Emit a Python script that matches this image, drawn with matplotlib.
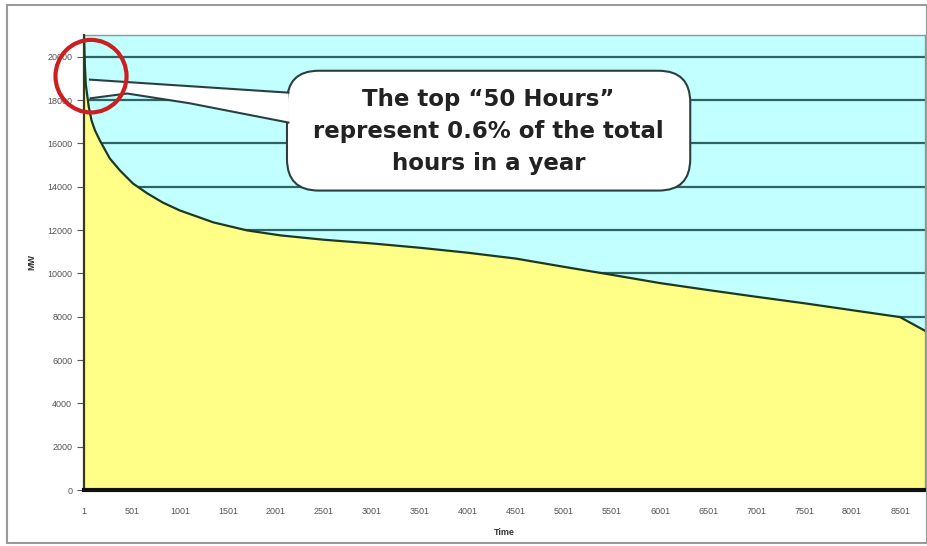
import matplotlib
matplotlib.use("Agg")
import matplotlib.pyplot as plt
from matplotlib.patches import FancyBboxPatch, Ellipse, Rectangle, Polygon

# load duration curve
hours = [1, 10, 20, 50, 80, 115, 170, 270, 375, 510, 660, 820, 1000, 1350,
         1700, 2050, 2500, 3000, 3500, 4000, 4500, 5000, 5500, 6000, 6500,
         7000, 7500, 8000, 8500, 8760]
mw = [21000, 19600, 18700, 17700, 17050, 16600, 16100, 15300, 14750, 14150,
      13690, 13270, 12900, 12350, 11980, 11750, 11550, 11380, 11180, 10950,
      10680, 10300, 9930, 9550, 9230, 8920, 8620, 8300, 7980, 7350]

y_ticks = list(range(0, 21000, 2000))
x_ticks = list(range(1, 8760, 500))
note = "The top \u201c50 Hours\u201d\nrepresent 0.6% of the total\nhours in a year"

plt.rcParams['font.family'] = ['Liberation Sans', 'DejaVu Sans']

fig = plt.figure(figsize=(9.28, 5.46), dpi=100)
fig.patches.append(Rectangle((7 / 928, 3 / 546), 920 / 928, 538 / 546,
                             transform=fig.transFigure, fill=False,
                             edgecolor='#9a9a9a', linewidth=1.5))
ax = fig.add_axes([84 / 928, 56 / 546, 841 / 928, 455 / 546])
ax.set_facecolor('#c2ffff')

ax.fill_between(hours, mw, 0, color='#ffff88', zorder=2, linewidth=0)
ax.plot(hours, mw, color='#1c3a22', linewidth=1.6, zorder=3)

ax.set_xlim(1, 8760)
ax.set_ylim(0, 21000)
ax.set_yticks(y_ticks)
ax.set_xticks(x_ticks)
ax.tick_params(axis='both', labelsize=6.5, labelcolor='#555555', color='#555555')
ax.tick_params(axis='y', length=5)
ax.tick_params(axis='x', length=0, pad=12)
ax.set_axisbelow(True)
ax.yaxis.grid(True, color='#2f6464', linewidth=1.6)

for side in ['top', 'right']:
    ax.spines[side].set_color('#8a9a9a')
    ax.spines[side].set_linewidth(1.0)
ax.spines['left'].set_color('#3a3a10')
ax.spines['left'].set_linewidth(1.6)
ax.spines['bottom'].set_color('#101010')
ax.spines['bottom'].set_linewidth(3.0)
ax.spines['bottom'].set_zorder(4)

ax.set_xlabel('Time', fontsize=6.5, color='#333333', fontweight='bold', labelpad=9)
ax.set_ylabel('MW', fontsize=6.5, color='#333333', fontweight='bold', labelpad=8)

# callout box (data coords, aspect fixed so corners stay round)
aspect = (2000 / 43.4) / (1 / 0.096)
box = FancyBboxPatch((2115, 13820), 4200, 5530,
                     boxstyle='round,pad=0,rounding_size=330',
                     mutation_aspect=aspect, facecolor='white',
                     edgecolor='#2a4040', linewidth=1.5, zorder=5)
ax.add_patch(box)
wedge = [(2130, 18340), (63, 18940), (70, 18080), (450, 18300),
         (1100, 17850), (2130, 16960)]
ax.add_patch(Polygon(wedge, closed=True, facecolor='white', edgecolor='none', zorder=6))
ax.plot([p[0] for p in wedge[:2]], [p[1] for p in wedge[:2]],
        color='#2a4040', linewidth=1.5, zorder=7)
ax.plot([p[0] for p in wedge[2:]], [p[1] for p in wedge[2:]],
        color='#2a4040', linewidth=1.5, zorder=7)
ax.text(4215, 16540, note, ha='center', va='center', fontsize=16.5,
        fontweight='bold', color='#222222', linespacing=1.5, zorder=8,
        family=['DejaVu Sans'])

# red circle round the peak
ax.add_patch(Ellipse((74, 19100), 740, 3350, fill=False, edgecolor='#cc2020',
                     linewidth=3, zorder=9, clip_on=False))

fig.savefig('out.png', dpi=100)
